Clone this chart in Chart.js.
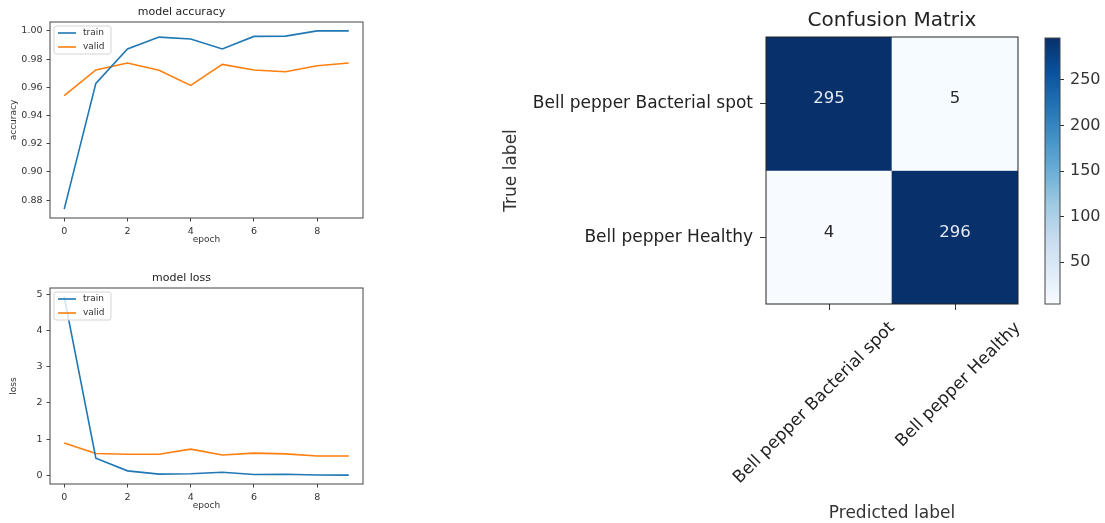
<!DOCTYPE html>
<html>
<head>
<meta charset="utf-8">
<title>Bell pepper classifier - training history and confusion matrix</title>
<script src="https://cdn.jsdelivr.net/npm/chart.js@4.4.1/dist/chart.umd.min.js"></script>
<style>
    html, body { margin: 0; padding: 0; background: #fff; }
    body { width: 1105px; height: 523px; position: relative; overflow: hidden; }
    canvas { position: absolute; }
</style>
</head>
<body>
<canvas id="accuracyChart" width="370" height="252" style="left:0;top:0"></canvas>
<canvas id="lossChart" width="370" height="252" style="left:0;top:266px"></canvas>
<canvas id="confusionChart" width="545" height="523" style="left:495px;top:0"></canvas>
<canvas id="colorbarChart" width="65" height="523" style="left:1040px;top:0"></canvas>

<script>
// Training history (10 epochs)
const epochs = [0, 1, 2, 3, 4, 5, 6, 7, 8, 9];
const trainAccuracy = [0.8737, 0.9628, 0.9872, 0.9956, 0.9943, 0.9872, 0.9961, 0.9963, 1.0, 1.0];
const validAccuracy = [0.9542, 0.9723, 0.9772, 0.9721, 0.9614, 0.9763, 0.9723, 0.9711, 0.9753, 0.9772];
const trainLoss = [4.93, 0.47, 0.12, 0.03, 0.04, 0.08, 0.02, 0.025, 0.005, 0.003];
const validLoss = [0.89, 0.60, 0.58, 0.58, 0.72, 0.56, 0.61, 0.59, 0.53, 0.53];

// Tick positions
const epochTicks = [0, 2, 4, 6, 8];
const accuracyTicks = [0.88, 0.90, 0.92, 0.94, 0.96, 0.98, 1.00];
const lossTicks = [0, 1, 2, 3, 4, 5];
const colorbarTicks = [50, 100, 150, 200, 250];

// Confusion matrix (rows = true label, columns = predicted label)
const classLabels = ['Bell pepper Bacterial spot', 'Bell pepper Healthy'];
const confusionCounts = [
    [295, 5],
    [4, 296]
];

// matplotlib "Blues" colormap stops
const bluesStops = ['#f7fbff', '#deebf7', '#c6dbef', '#9ecae1', '#6baed6', '#4292c6', '#2171b5', '#08519c', '#08306b'];

const colorMin = Math.min(...confusionCounts.flat());
const colorMax = Math.max(...confusionCounts.flat());

Chart.defaults.font.family = '"DejaVu Sans", sans-serif';
Chart.defaults.color = '#333';
Chart.defaults.animation = false;

// Autoscale like matplotlib: data range plus 5% on both sides
function paddedRange(values, margin = 0.05) {
    const lo = Math.min(...values);
    const hi = Math.max(...values);
    const pad = (hi - lo) * margin;
    return { min: lo - pad, max: hi + pad };
}

function toPoints(values) {
    return values.map((v, i) => ({ x: epochs[i], y: v }));
}

function hexToRgb(hex) {
    const n = parseInt(hex.slice(1), 16);
    return [(n >> 16) & 255, (n >> 8) & 255, n & 255];
}

// Linear interpolation inside the Blues stops, t in [0, 1]
function blues(t) {
    const pos = Math.min(Math.max(t, 0), 1) * (bluesStops.length - 1);
    const i = Math.min(Math.floor(pos), bluesStops.length - 2);
    const f = pos - i;
    const a = hexToRgb(bluesStops[i]);
    const b = hexToRgb(bluesStops[i + 1]);
    const c = a.map((v, k) => Math.round(v + (b[k] - v) * f));
    return `rgb(${c[0]}, ${c[1]}, ${c[2]})`;
}

function colorbarGradient(chart) {
    const area = chart.chartArea;
    if (!area) return bluesStops[0];
    const g = chart.ctx.createLinearGradient(0, area.bottom, 0, area.top);
    bluesStops.forEach((c, i) => g.addColorStop(i / (bluesStops.length - 1), c));
    return g;
}

// Box around the plot area (matplotlib spines)
const framePlugin = {
    id: 'frame',
    afterDraw(chart, args, opts) {
        const { ctx, chartArea: a } = chart;
        ctx.save();
        ctx.strokeStyle = opts.color || '#444';
        ctx.lineWidth = 1;
        ctx.strokeRect(a.left, a.top, a.right - a.left, a.bottom - a.top);
        ctx.restore();
    }
};

// Legend box in the upper left corner of the plot area
const cornerLegendPlugin = {
    id: 'cornerLegend',
    afterDatasetsDraw(chart) {
        const { ctx, chartArea: a } = chart;
        const x = a.left + 4;
        const y = a.top + 4;
        ctx.save();
        ctx.fillStyle = 'rgba(255, 255, 255, 0.8)';
        ctx.strokeStyle = '#d4d4d4';
        ctx.lineWidth = 1;
        ctx.beginPath();
        ctx.roundRect(x, y, 57, 28, 2);
        ctx.fill();
        ctx.stroke();
        ctx.font = '9px "DejaVu Sans"';
        ctx.textBaseline = 'middle';
        chart.data.datasets.forEach((ds, i) => {
            const ly = y + 7 + i * 14;
            ctx.strokeStyle = ds.borderColor;
            ctx.lineWidth = 1.6;
            ctx.beginPath();
            ctx.moveTo(x + 4, ly);
            ctx.lineTo(x + 22, ly);
            ctx.stroke();
            ctx.fillStyle = '#333';
            ctx.fillText(ds.label, x + 29, ly);
        });
        ctx.restore();
    }
};

// Count written in the middle of every matrix cell
const cellValuePlugin = {
    id: 'cellValues',
    afterDatasetsDraw(chart) {
        const { ctx } = chart;
        ctx.save();
        ctx.font = '16.5px "DejaVu Sans"';
        ctx.textAlign = 'center';
        ctx.textBaseline = 'middle';
        chart.data.datasets.forEach((ds, row) => {
            chart.getDatasetMeta(row).data.forEach((bar, col) => {
                const value = confusionCounts[row][col];
                ctx.fillStyle = value > (colorMin + colorMax) / 2 ? '#e4e9f2' : '#2a2a2a';
                ctx.fillText(String(value), bar.x, (bar.y + bar.base) / 2 - 5);
            });
        });
        ctx.restore();
    }
};

// Accuracy / loss curves for train and validation
function buildHistoryChart(canvasId, title, yTitle, trainValues, validValues, yTicks, yFormat) {
    const xRange = paddedRange(epochs);
    const yRange = paddedRange(trainValues.concat(validValues));

    return new Chart(document.getElementById(canvasId), {
        type: 'line',
        data: {
            datasets: [
                { label: 'train', data: toPoints(trainValues), borderColor: '#1f77b4' },
                { label: 'valid', data: toPoints(validValues), borderColor: '#ff7f0e' }
            ]
        },
        options: {
            responsive: false,
            animation: false,
            layout: { padding: { left: 0, right: 7, top: 0, bottom: 0 } },
            elements: {
                point: { radius: 0 },
                line: { borderWidth: 1.6, tension: 0 }
            },
            scales: {
                x: {
                    type: 'linear',
                    min: xRange.min,
                    max: xRange.max,
                    afterBuildTicks: (scale) => { scale.ticks = epochTicks.map(v => ({ value: v })); },
                    afterFit: (scale) => { scale.height = 34; },
                    ticks: { font: { size: 9.5 }, padding: 4, maxRotation: 0, callback: (v) => String(v) },
                    grid: { drawOnChartArea: false, tickLength: 3.5, color: '#444' },
                    border: { display: false },
                    title: { display: true, text: 'epoch', font: { size: 9 }, padding: { top: 0, bottom: 7 } }
                },
                y: {
                    min: yRange.min,
                    max: yRange.max,
                    afterBuildTicks: (scale) => { scale.ticks = yTicks.map(v => ({ value: v })); },
                    afterFit: (scale) => { scale.width = 50; },
                    ticks: { font: { size: 9.5 }, padding: 4, callback: yFormat },
                    grid: { drawOnChartArea: false, tickLength: 3.5, color: '#444' },
                    border: { display: false },
                    title: { display: true, text: yTitle, font: { size: 9 }, padding: { top: 8, bottom: 0 } }
                }
            },
            plugins: {
                legend: { display: false },
                tooltip: { enabled: false },
                title: {
                    display: true,
                    text: title,
                    color: '#222',
                    font: { size: 11, weight: 'normal' },
                    padding: { top: 5.4, bottom: 3.4 }
                },
                frame: { color: '#444' }
            }
        },
        plugins: [framePlugin, cornerLegendPlugin]
    });
}

buildHistoryChart('accuracyChart', 'model accuracy', 'accuracy',
    trainAccuracy, validAccuracy, accuracyTicks, (v) => v.toFixed(2));
buildHistoryChart('lossChart', 'model loss', 'loss',
    trainLoss, validLoss, lossTicks, (v) => String(v));

// Confusion matrix: one floating bar per cell, rows stacked on a 0..2 axis
new Chart(document.getElementById('confusionChart'), {
    type: 'bar',
    data: {
        labels: classLabels,
        datasets: classLabels.map((name, row) => ({
            label: name,
            data: classLabels.map(() => [row, row + 1]),
            backgroundColor: (ctx) => blues((confusionCounts[row][ctx.dataIndex] - colorMin) / (colorMax - colorMin)),
            grouped: false,
            barPercentage: 1,
            categoryPercentage: 1,
            borderWidth: 0
        }))
    },
    options: {
        responsive: false,
        animation: false,
        layout: { padding: { left: 0, right: 22, top: 0, bottom: 0 } },
        scales: {
            x: {
                afterFit: (scale) => { scale.height = 219; },
                ticks: {
                    font: { size: 17 },
                    color: '#222',
                    minRotation: 45,
                    maxRotation: 45,
                    autoSkip: false,
                    labelOffset: 63,
                    padding: 8
                },
                grid: { offset: false, drawOnChartArea: false, tickLength: 6, color: '#333' },
                border: { display: false },
                title: {
                    display: true,
                    text: 'Predicted label',
                    font: { size: 17, lineHeight: 1 },
                    padding: { top: 0, bottom: 0.5 }
                }
            },
            y: {
                min: 0,
                max: 2,
                reverse: true,
                afterBuildTicks: (scale) => { scale.ticks = classLabels.map((_, i) => ({ value: i + 0.5 })); },
                afterFit: (scale) => { scale.width = 271; },
                ticks: {
                    font: { size: 17 },
                    color: '#222',
                    padding: 7,
                    callback: (v) => classLabels[Math.floor(v)]
                },
                grid: { drawOnChartArea: false, tickLength: 6, color: '#333' },
                border: { display: false },
                title: {
                    display: true,
                    text: 'True label',
                    font: { size: 17 },
                    padding: { top: 6.8, bottom: 0 }
                }
            }
        },
        plugins: {
            legend: { display: false },
            tooltip: { enabled: false },
            title: {
                display: true,
                text: 'Confusion Matrix',
                fullSize: false,
                color: '#222',
                font: { size: 20, weight: 'normal' },
                padding: { top: 8.5, bottom: 4.5 }
            },
            frame: { color: '#222' }
        }
    },
    plugins: [framePlugin, cellValuePlugin]
});

// Colorbar for the matrix counts
new Chart(document.getElementById('colorbarChart'), {
    type: 'bar',
    data: {
        labels: [''],
        datasets: [{
            data: [[colorMin, colorMax]],
            backgroundColor: (ctx) => colorbarGradient(ctx.chart),
            barPercentage: 1,
            categoryPercentage: 1,
            borderWidth: 0
        }]
    },
    options: {
        responsive: false,
        animation: false,
        layout: { padding: { left: 5, right: 0, top: 38, bottom: 219 } },
        scales: {
            x: { display: false },
            y: {
                position: 'right',
                min: colorMin,
                max: colorMax,
                afterBuildTicks: (scale) => { scale.ticks = colorbarTicks.map(v => ({ value: v })); },
                afterFit: (scale) => { scale.width = 45; },
                ticks: { font: { size: 16 }, padding: 6, callback: (v) => String(v) },
                grid: { drawOnChartArea: false, tickLength: 4, color: '#333' },
                border: { display: false }
            }
        },
        plugins: {
            legend: { display: false },
            tooltip: { enabled: false },
            frame: { color: '#444' }
        }
    },
    plugins: [framePlugin]
});
</script>
</body>
</html>
